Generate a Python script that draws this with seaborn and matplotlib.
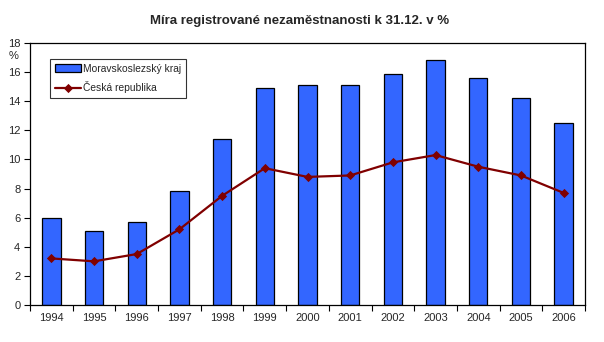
import matplotlib
matplotlib.use("Agg")
import matplotlib.pyplot as plt
import seaborn as sns
import pandas as pd
import numpy as np
from matplotlib.ticker import FixedLocator, NullFormatter

years = ["1994", "1995", "1996", "1997", "1998", "1999", "2000",
         "2001", "2002", "2003", "2004", "2005", "2006"]
msk = [6.0, 5.1, 5.7, 7.8, 11.4, 14.9, 15.1, 15.1, 15.9, 16.8, 15.6, 14.2, 12.5]
cr = [3.2, 3.0, 3.5, 5.2, 7.5, 9.4, 8.8, 8.9, 9.8, 10.3, 9.5, 8.9, 7.7]

df = pd.DataFrame({"rok": years, "msk": msk, "cr": cr})

sns.set_theme(style="white")
plt.rcParams["font.family"] = ["Liberation Sans", "DejaVu Sans"]

fig = plt.figure(figsize=(6.04, 3.42), dpi=100)
ax = fig.add_axes([30 / 604, 37 / 342, 555 / 604, 262 / 342])

sns.barplot(data=df, x="rok", y="msk", color="#3366FF", saturation=1,
            width=0.43, edgecolor="black", linewidth=0.9, ax=ax,
            label="Moravskoslezský kraj")
sns.pointplot(data=df, x="rok", y="cr", color="#800000", marker="D",
              markersize=3.5, linewidth=1.6, ax=ax, label="Česká republika")

ax.set_xlim(-0.5, len(years) - 0.5)
ax.set_ylim(0, 18)
ax.set_yticks(np.arange(0, 19, 2))
ax.set_xlabel("")
ax.set_ylabel("")

# category boundaries carry the tick marks, centres carry the labels
ax.xaxis.set_major_locator(FixedLocator(np.arange(-0.5, len(years), 1.0)))
ax.xaxis.set_major_formatter(NullFormatter())
ax.xaxis.set_minor_locator(FixedLocator(np.arange(len(years))))
ax.set_xticklabels(years, minor=True)
ax.tick_params(axis="x", which="major", length=4, width=0.8, color="black",
               direction="out", bottom=True)
ax.tick_params(axis="x", which="minor", length=0, pad=6, labelsize=8)
ax.tick_params(axis="y", length=4, width=0.8, color="black", direction="out",
               left=True, labelsize=8, pad=3)

for s in ax.spines.values():
    s.set_color("black")
    s.set_linewidth(0.9)

fig.text(14 / 604, 1 - 56 / 342, "%", fontsize=8, ha="center", va="center")
fig.text(300 / 604, 1 - 21 / 342, "Míra registrované nezaměstnanosti k 31.12. v %",
         fontsize=9.5, fontweight="bold", ha="center", va="center")

handles, labels = ax.get_legend_handles_labels()
order = [labels.index("Moravskoslezský kraj"), labels.index("Česká republika")]
leg = ax.legend([handles[i] for i in order], [labels[i] for i in order],
                loc="upper left", bbox_to_anchor=(20 / 555, 1 - 16 / 262),
                frameon=True, fancybox=False, fontsize=7.4, borderpad=0.45,
                handlelength=2.6, handleheight=0.8, handletextpad=0.15,
                labelspacing=0.75, borderaxespad=0)
leg.get_frame().set_edgecolor("black")
leg.get_frame().set_linewidth(0.8)

fig.savefig("out.png", dpi=100, facecolor="white")
